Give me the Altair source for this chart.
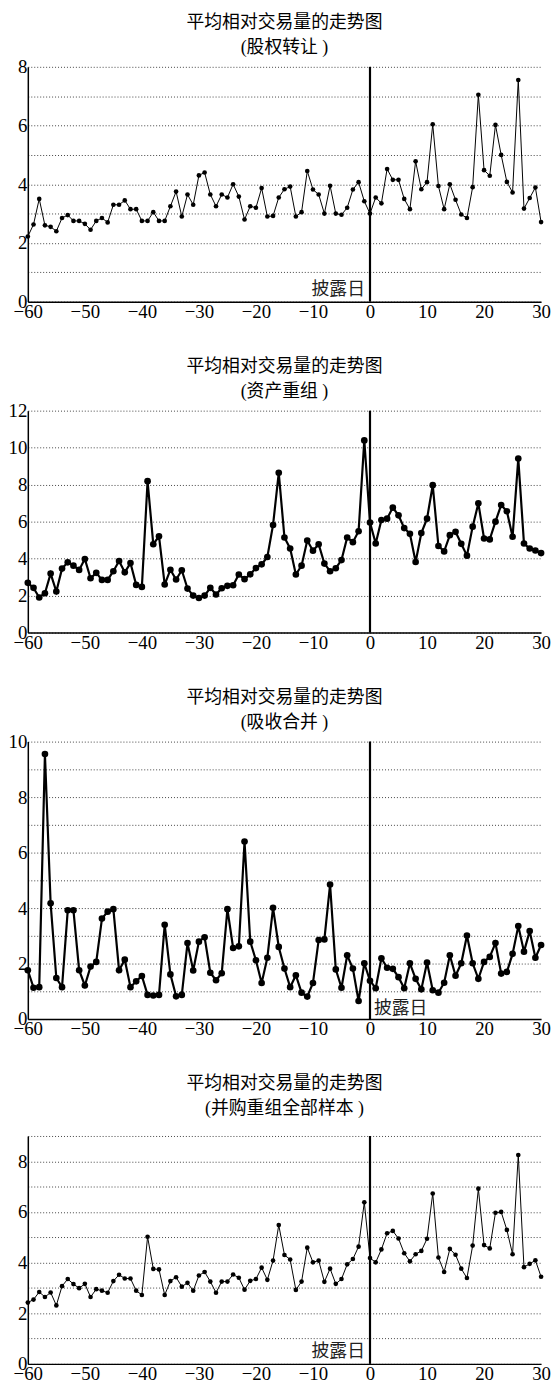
import altair as alt
import pandas as pd

days = list(range(-60, 31))

title_main = "平均相对交易量的走势图"
subtitles = ["(股权转让 )", "(资产重组 )", "(吸收合并 )", "(并购重组全部样本 )"]
marker_label = "披露日"

p1_values = [2.22, 2.63, 3.5, 2.6, 2.55, 2.4, 2.85, 2.95, 2.75, 2.75, 2.65, 2.45, 2.75, 2.85, 2.7,
             3.3, 3.3, 3.45, 3.15, 3.15, 2.75, 2.75, 3.05, 2.75, 2.75, 3.25, 3.75, 2.9, 3.65, 3.3,
             4.3, 4.4, 3.65, 3.25, 3.65, 3.55, 4.0, 3.58, 2.8, 3.25, 3.2, 3.87, 2.9, 2.92, 3.55,
             3.83, 3.92, 2.9, 3.05, 4.45, 3.82, 3.65, 3.0, 3.95, 3.0, 2.96, 3.2, 3.82, 4.07, 3.42,
             3.0, 3.55, 3.35, 4.52, 4.15, 4.15, 3.5, 3.15, 4.78, 3.83, 4.07, 6.04, 3.94, 3.15, 4.0,
             3.47, 2.97, 2.85, 3.9, 7.05, 4.48, 4.29, 6.02, 5.0, 4.08, 3.72, 7.55, 3.17, 3.53, 3.89, 2.71]

p2_values = [2.69, 2.42, 1.9, 2.13, 3.19, 2.22, 3.46, 3.8, 3.62, 3.39, 3.98, 2.94, 3.23, 2.85, 2.85,
             3.32, 3.87, 3.26, 3.76, 2.58, 2.47, 8.19, 4.78, 5.21, 2.6, 3.4, 2.87, 3.37, 2.38, 2.0,
             1.87, 2.0, 2.42, 2.06, 2.4, 2.53, 2.56, 3.14, 2.89, 3.15, 3.49, 3.69, 4.09, 5.82, 8.64,
             5.14, 4.55, 3.14, 3.62, 4.98, 4.43, 4.78, 3.73, 3.32, 3.48, 3.92, 5.14, 4.89, 5.48, 10.39,
             5.95, 4.82, 6.09, 6.16, 6.76, 6.34, 5.65, 5.34, 3.82, 5.38, 6.16, 7.97, 4.68, 4.39, 5.27,
             5.45, 4.8, 4.16, 5.73, 6.99, 5.09, 5.04, 6.0, 6.9, 6.56, 5.18, 9.41, 4.82, 4.55, 4.44, 4.3]

p3_values = [1.76, 1.13, 1.15, 9.55, 4.17, 1.48, 1.15, 3.92, 3.92, 1.76, 1.21, 1.89, 2.06, 3.62, 3.87,
             3.96, 1.76, 2.14, 1.15, 1.36, 1.55, 0.87, 0.85, 0.87, 3.4, 1.61, 0.82, 0.87, 2.74, 1.75,
             2.79, 2.95, 1.67, 1.4, 1.65, 3.96, 2.56, 2.62, 6.4, 2.79, 2.12, 1.3, 2.21, 4.01, 2.6,
             1.82, 1.15, 1.58, 0.95, 0.81, 1.3, 2.85, 2.87, 4.85, 1.79, 1.13, 2.3, 1.82, 0.65, 2.01,
             1.38, 1.11, 2.19, 1.85, 1.81, 1.51, 1.11, 2.01, 1.45, 1.07, 2.04, 1.04, 0.95, 1.31, 2.3,
             1.56, 2.01, 3.01, 2.01, 1.45, 2.06, 2.24, 2.74, 1.64, 1.7, 2.35, 3.35, 2.43, 3.17, 2.21, 2.67]

p4_values = [2.42, 2.54, 2.84, 2.64, 2.82, 2.31, 3.07, 3.35, 3.15, 2.99, 3.16, 2.64, 2.95, 2.89, 2.81,
             3.27, 3.52, 3.37, 3.37, 2.89, 2.72, 5.02, 3.75, 3.73, 2.72, 3.27, 3.42, 3.05, 3.2, 2.89,
             3.49, 3.63, 3.25, 2.81, 3.25, 3.25, 3.53, 3.4, 2.93, 3.28, 3.35, 3.8, 3.32, 4.08, 5.48,
             4.3, 4.12, 2.92, 3.25, 4.59, 4.01, 4.08, 3.24, 3.76, 3.16, 3.35, 3.93, 4.14, 4.63, 6.38,
             4.18, 4.01, 4.52, 5.16, 5.25, 4.95, 4.37, 4.05, 4.33, 4.46, 4.94, 6.73, 4.2, 3.63, 4.54,
             4.31, 3.76, 3.39, 4.67, 6.92, 4.69, 4.56, 5.97, 6.0, 5.29, 4.33, 8.25, 3.82, 3.95, 4.09, 3.44]

x_ticks = list(range(-60, 31, 10))

NUM_FONT = "'Liberation Serif', 'Times New Roman', serif"
CJK_FONT = "'Liberation Serif', 'Noto Sans CJK SC', serif"


def panel(values, sub, ymax, grid_step, height, line_w, pt_size, label_side, t_offset):
    df = pd.DataFrame({"day": days, "v": values})
    x_enc = alt.X("day:Q", title=None,
                  scale=alt.Scale(domain=[-60, 30], nice=False, zero=False),
                  axis=alt.Axis(values=x_ticks, grid=False, ticks=False,
                                labelFlush=False, labelPadding=1, format="d",
                                labelFont=NUM_FONT, labelFontSize=19, labelOverlap=False,
                                labelColor="black"))
    y_enc = alt.Y("v:Q", title=None,
                  scale=alt.Scale(domain=[0, ymax], nice=False),
                  axis=alt.Axis(values=list(range(0, ymax + 1, grid_step)), tickCount=40,
                                format="d",
                                grid=True, gridDash=[1, 2], gridColor="#444", gridWidth=1,
                                ticks=False, labelPadding=1, minExtent=19, maxExtent=19,
                                labelFont=NUM_FONT, labelFontSize=19, labelOverlap=False,
                                labelColor="black",
                                labelExpr="datum.value % 2 == 0 ? datum.label : ''"))
    line = alt.Chart(df).mark_line(color="black", strokeWidth=line_w).encode(x=x_enc, y=y_enc)
    pts = alt.Chart(df).mark_circle(color="black", size=pt_size, opacity=1).encode(x="day:Q", y="v:Q")
    rule_df = pd.DataFrame({"day": [0], "v": [0], "v2": [ymax]})
    rule = alt.Chart(rule_df).mark_rule(color="black", strokeWidth=2.2).encode(
        x="day:Q", y="v:Q", y2="v2:Q")
    layers = [line, pts, rule]
    if label_side:
        lab_df = pd.DataFrame({"day": [0], "v": [0], "t": [marker_label]})
        if label_side == "left":
            txt = alt.Chart(lab_df).mark_text(align="right", baseline="bottom", dx=-5, dy=-3,
                                              font="Noto Sans CJK SC", fontSize=18, color="#222")
        else:
            txt = alt.Chart(lab_df).mark_text(align="left", baseline="bottom", dx=4, dy=-1,
                                              font="Noto Sans CJK SC", fontSize=18, color="#222")
        layers.append(txt.encode(x="day:Q", y="v:Q", text="t:N"))
    return alt.layer(*layers).properties(
        width=518, height=height,
        title=alt.TitleParams(text=[title_main, sub], fontSize=18, font=CJK_FONT,
                              fontWeight="normal", lineHeight=25, offset=t_offset,
                              anchor="middle", color="black"))


c1 = panel(p1_values, subtitles[0], 8, 1, 237, 1, 22, "left", 1)
c2 = panel(p2_values, subtitles[1], 12, 2, 224, 2.2, 45, None, 1)
c3 = panel(p3_values, subtitles[2], 10, 1, 280, 2.2, 45, "right", 1)
c4 = panel(p4_values, subtitles[3], 9, 1, 230, 1, 22, "left", 9)

chart = alt.vconcat(c1, c2, c3, c4, spacing=37,
                    padding={"left": 0, "top": 0, "right": 0, "bottom": 0}).configure_view(
    stroke=None
).configure_axis(
    domainColor="black", domainWidth=1.5
)

chart.save("out.html", embed_options={"renderer": "svg", "actions": False})
